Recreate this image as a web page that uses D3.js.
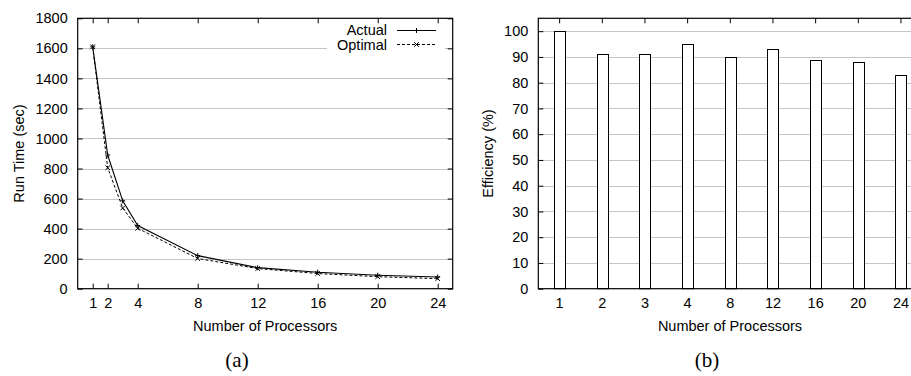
<!DOCTYPE html>
<html>
<head>
<meta charset="utf-8">
<script src="https://cdn.jsdelivr.net/npm/d3@7"></script>
<style>
  html, body { margin: 0; padding: 0; background: #fff; }
  svg { display: block; }
  text { font-family: "Liberation Sans", Arial, Helvetica, sans-serif; fill: #000; }
</style>
</head>
<body>
<svg id="chart" width="911" height="376"></svg>
<script>
// ---- Data ----
const processors = [1, 2, 3, 4, 8, 12, 16, 20, 24];
const actualTime = [1610, 890, 585, 420, 220, 140, 110, 90, 78];
const optimalTime = [1610, 805, 537, 402, 201, 134, 101, 80, 67];
const runTimeXTicks = [1, 2, 4, 8, 12, 16, 20, 24];
const runTimeYTicks = [0, 200, 400, 600, 800, 1000, 1200, 1400, 1600, 1800];
const effCategories = ["1", "2", "3", "4", "8", "12", "16", "20", "24"];
const efficiency = [100, 91, 91, 95, 90, 93, 89, 88, 83];
const effYTicks = [0, 10, 20, 30, 40, 50, 60, 70, 80, 90, 100];

const svg = d3.select("#chart");
const FONT = 14.5;
const SERIF = "'Liberation Serif', 'DejaVu Serif', serif";
const GRID = "#c4c4c4";
const TICK = 5;
const fmt = d3.format("d");

// ---- Chart (a) ----
const A = { left: 77.7, right: 452.7, top: 18.3, bottom: 288.7 };
const xA = d3.scaleLinear().domain([0, 25]).range([A.left, A.right]);
const yA = d3.scaleLinear().domain([0, 1800]).range([A.bottom, A.top]);
const gA = svg.append("g");

gA.append("g").selectAll("line").data(runTimeYTicks.filter(d => d > 0 && d < 1800)).join("line")
  .attr("x1", A.left).attr("x2", A.right)
  .attr("y1", d => Math.round(yA(d)) + 0.5).attr("y2", d => Math.round(yA(d)) + 0.5)
  .attr("stroke", GRID).attr("stroke-width", 1);

gA.append("rect").attr("x", 327).attr("y", 23).attr("width", 118).attr("height", 29).attr("fill", "#fff");

gA.append("g").attr("transform", `translate(0,${A.bottom})`)
  .call(d3.axisBottom(xA).tickValues(runTimeXTicks).tickFormat(fmt).tickSizeInner(-TICK).tickSizeOuter(0).tickPadding(9))
  .call(g => g.select(".domain").remove());
gA.append("g").attr("transform", `translate(0,${A.top})`)
  .call(d3.axisTop(xA).tickValues(runTimeXTicks).tickSizeInner(-TICK).tickSizeOuter(0).tickFormat(""))
  .call(g => g.select(".domain").remove());
gA.append("g").attr("transform", `translate(${A.left},0)`)
  .call(d3.axisLeft(yA).tickValues(runTimeYTicks).tickFormat(fmt).tickSizeInner(-TICK).tickSizeOuter(0).tickPadding(10))
  .call(g => g.select(".domain").remove());
gA.append("g").attr("transform", `translate(${A.right},0)`)
  .call(d3.axisRight(yA).tickValues(runTimeYTicks).tickSizeInner(-TICK).tickSizeOuter(0).tickFormat(""))
  .call(g => g.select(".domain").remove());
gA.selectAll("g.tick text").attr("font-size", FONT).attr("fill", "#000");
gA.selectAll("g.tick line").attr("stroke", "#000");

gA.append("rect").attr("x", A.left).attr("y", A.top).attr("width", A.right - A.left).attr("height", A.bottom - A.top)
  .attr("fill", "none").attr("stroke", "#000").attr("stroke-width", 1.2);

const lineA = d3.line().x((d, i) => xA(processors[i])).y(d => yA(d));
gA.append("path").datum(optimalTime).attr("d", lineA).attr("fill", "none")
  .attr("stroke", "#000").attr("stroke-width", 1).attr("stroke-dasharray", "3,2");
gA.append("path").datum(actualTime).attr("d", lineA).attr("fill", "none")
  .attr("stroke", "#000").attr("stroke-width", 1.1);

function plus(g, x, y, s) {
  g.append("path").attr("d", `M${x - s},${y}H${x + s}M${x},${y - s}V${y + s}`).attr("stroke", "#000").attr("stroke-width", 1);
}
function cross(g, x, y, s) {
  g.append("path").attr("d", `M${x - s},${y - s}L${x + s},${y + s}M${x - s},${y + s}L${x + s},${y - s}`).attr("stroke", "#000").attr("stroke-width", 1);
}
actualTime.forEach((v, i) => plus(gA, xA(processors[i]), yA(v), 2.5));
optimalTime.forEach((v, i) => cross(gA, xA(processors[i]), yA(v), 2.3));

gA.append("text").attr("x", 387).attr("y", 35).attr("text-anchor", "end").attr("font-size", FONT).text("Actual");
gA.append("line").attr("x1", 397).attr("x2", 436).attr("y1", 30.5).attr("y2", 30.5).attr("stroke", "#000").attr("stroke-width", 1.1);
plus(gA, 416.5, 30.5, 2.5);
gA.append("text").attr("x", 387).attr("y", 49.5).attr("text-anchor", "end").attr("font-size", FONT).text("Optimal");
gA.append("line").attr("x1", 397).attr("x2", 436).attr("y1", 44.5).attr("y2", 44.5).attr("stroke", "#000").attr("stroke-width", 1).attr("stroke-dasharray", "3,2");
cross(gA, 416.5, 44.5, 2.3);

gA.append("text").attr("x", (A.left + A.right) / 2).attr("y", 331).attr("text-anchor", "middle").attr("font-size", FONT).text("Number of Processors");
gA.append("text").attr("transform", `translate(24,${(A.top + A.bottom) / 2}) rotate(-90)`).attr("text-anchor", "middle").attr("font-size", FONT).text("Run Time (sec)");
gA.append("text").attr("x", 237).attr("y", 367).attr("text-anchor", "middle")
  .attr("font-size", 21).style("font-family", SERIF).text("(a)");

// ---- Chart (b) ----
const B = { left: 538.3, right: 922.3, top: 18.3, bottom: 288.7 };
const xB = d3.scaleBand().domain(effCategories).range([B.left, B.right]).padding(0);
const yB = d3.scaleLinear().domain([0, 105]).range([B.bottom, B.top]);
const gB = svg.append("g");

gB.append("g").selectAll("line").data(effYTicks.filter(d => d > 0)).join("line")
  .attr("x1", B.left).attr("x2", B.right)
  .attr("y1", d => Math.round(yB(d)) + 0.5).attr("y2", d => Math.round(yB(d)) + 0.5)
  .attr("stroke", GRID).attr("stroke-width", 1);

gB.append("g").attr("transform", `translate(0,${B.bottom})`)
  .call(d3.axisBottom(xB).tickSizeInner(-TICK).tickSizeOuter(0).tickPadding(9))
  .call(g => g.select(".domain").remove());
gB.append("g").attr("transform", `translate(0,${B.top})`)
  .call(d3.axisTop(xB).tickSizeInner(-TICK).tickSizeOuter(0).tickFormat(""))
  .call(g => g.select(".domain").remove());
gB.append("g").attr("transform", `translate(${B.left},0)`)
  .call(d3.axisLeft(yB).tickValues(effYTicks).tickFormat(fmt).tickSizeInner(-TICK).tickSizeOuter(0).tickPadding(10))
  .call(g => g.select(".domain").remove());
gB.selectAll("g.tick text").attr("font-size", FONT).attr("fill", "#000");
gB.selectAll("g.tick line").attr("stroke", "#000");

const barW = xB.bandwidth() * 0.26;
gB.append("g").selectAll("rect").data(efficiency).join("rect")
  .attr("x", (d, i) => Math.round(xB(effCategories[i]) + xB.bandwidth() / 2 - barW / 2) + 0.5)
  .attr("y", d => Math.round(yB(d)) + 0.5)
  .attr("width", Math.round(barW))
  .attr("height", d => B.bottom - Math.round(yB(d)) - 0.5)
  .attr("fill", "#fff").attr("stroke", "#000").attr("stroke-width", 1);

gB.append("rect").attr("x", B.left).attr("y", B.top).attr("width", B.right - B.left).attr("height", B.bottom - B.top)
  .attr("fill", "none").attr("stroke", "#000").attr("stroke-width", 1.2);

gB.append("text").attr("x", 730).attr("y", 331).attr("text-anchor", "middle").attr("font-size", FONT).text("Number of Processors");
gB.append("text").attr("transform", `translate(493,${(B.top + B.bottom) / 2}) rotate(-90)`).attr("text-anchor", "middle").attr("font-size", FONT).text("Efficiency (%)");
gB.append("text").attr("x", 707).attr("y", 367).attr("text-anchor", "middle")
  .attr("font-size", 21).style("font-family", SERIF).text("(b)");
</script>
</body>
</html>
